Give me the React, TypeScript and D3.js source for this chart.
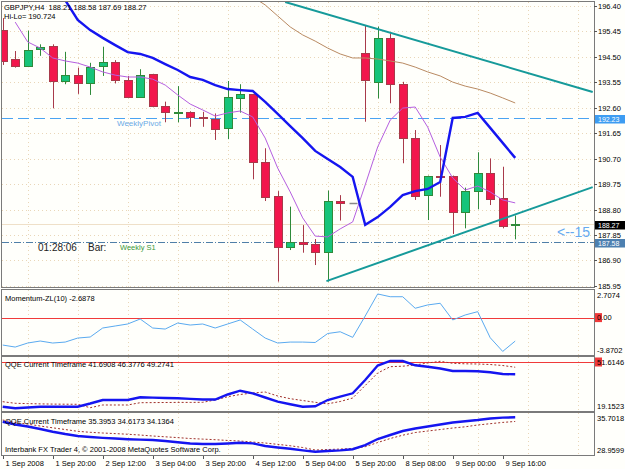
import React from 'react'
import * as d3 from 'd3'

// GBPJPY H4 bars, 1 Sep 2008 .. 9 Sep 2008 20:00
const opens = [195.50, 194.41, 194.17, 194.78, 194.91, 193.60, 193.82, 193.51, 194.17, 194.30, 193.64, 192.99, 193.85, 192.67, 192.39, 192.45, 192.27, 192.18, 191.83, 192.98, 193.10, 190.59, 189.31, 187.41, 187.60, 187.52, 187.23, 189.12, 189.06, 194.66, 193.55, 195.19, 193.49, 191.46, 189.34, 190.05, 190.05, 188.70, 189.49, 190.15, 189.22, 188.21]
const highs = [195.95, 194.72, 195.48, 194.97, 194.97, 194.69, 194.10, 194.28, 194.88, 194.38, 193.79, 194.04, 193.87, 192.83, 193.41, 192.47, 192.45, 192.39, 193.60, 193.48, 193.12, 191.09, 189.49, 188.91, 188.22, 187.70, 189.51, 189.34, 189.06, 195.69, 195.63, 195.38, 193.57, 191.77, 190.07, 191.21, 190.07, 189.62, 190.94, 190.71, 190.40, 188.58]
const lows = [194.20, 194.10, 194.12, 194.54, 192.58, 193.48, 193.12, 193.08, 193.79, 193.51, 192.99, 192.97, 192.62, 192.06, 192.06, 191.89, 191.89, 191.40, 191.43, 192.42, 189.93, 189.12, 186.11, 187.29, 187.19, 186.73, 186.11, 188.39, 189.06, 192.08, 192.95, 192.77, 190.53, 189.16, 188.41, 189.28, 187.89, 188.10, 188.81, 188.97, 188.10, 187.69]
const closes = [194.36, 194.17, 194.76, 194.86, 193.60, 193.82, 193.51, 194.13, 194.30, 193.64, 193.01, 193.82, 192.68, 192.43, 192.43, 192.25, 192.22, 191.81, 193.01, 193.10, 190.59, 189.28, 187.41, 187.58, 187.52, 187.23, 189.12, 189.03, 189.06, 193.64, 195.19, 193.48, 191.46, 189.31, 190.05, 190.03, 188.70, 189.49, 190.15, 189.18, 188.19, 188.27]

// moving averages on the price chart
const maBlue = [null, null, null, null, 197.0, 196.62, 195.88, 195.50, 195.21, 194.94, 194.68, 194.61, 194.46, 194.23, 194.01, 193.75, 193.64, 193.45, 193.30, 193.26, 193.23, 192.82, 192.37, 191.92, 191.47, 190.99, 190.69, 190.39, 190.02, 188.23, 188.52, 188.90, 189.34, 189.49, 189.57, 189.83, 192.22, 192.26, 192.41, 191.85, 191.29, 190.73]
const maPurple = [null, 195.80, 195.06, 194.83, 194.46, 194.35, 194.27, 194.12, 193.94, 193.82, 193.75, 193.75, 193.67, 193.45, 193.08, 192.74, 192.52, 192.29, 192.41, 192.48, 192.26, 191.47, 190.35, 189.46, 188.49, 187.81, 187.78, 188.08, 188.34, 189.72, 191.14, 192.14, 192.59, 192.63, 191.88, 190.76, 189.98, 189.53, 189.68, 189.46, 189.16, 189.05]
const maBrown = [null, null, null, null, null, null, null, null, null, null, null, null, null, null, null, null, null, null, null, null, 196.74, 196.44, 196.03, 195.62, 195.32, 195.09, 194.83, 194.61, 194.46, 194.46, 194.42, 194.35, 194.27, 194.12, 193.94, 193.79, 193.56, 193.41, 193.30, 193.15, 192.97, 192.78]

// trend lines (bar index, price)
const trendUpper = [{ bar: 22.6, price: 196.55 }, { bar: 47.2, price: 193.19 }]
const trendLower = [{ bar: 25.9, price: 186.13 }, { bar: 47.2, price: 189.64 }]

const weeklyPivot = 192.23
const weeklyS1 = 187.58

// indicator windows
const momentum = [-3.14, -3.37, -2.91, -2.68, -2.91, -2.80, -2.34, -2.22, -1.19, -0.96, -0.73, -0.16, -1.19, -1.31, -0.62, -0.85, -0.73, -1.19, -0.73, -0.27, -1.31, -2.34, -2.91, -2.80, -2.80, -2.85, -1.82, -1.62, -2.26, 0.18, 2.7074, 2.39, 2.39, 1.07, 1.45, 1.64, -0.27, 0.30, 0.68, -2.30, -3.8702, -2.6878]
const qqe1Line = [20.21, 19.15, 19.68, 20.21, 20.21, 20.21, 20.21, 22.33, 24.65, 24.65, 24.65, 26.44, 26.25, 25.98, 25.78, 25.38, 24.99, 24.99, 28.30, 30.82, 29.10, 26.31, 23.53, 21.87, 20.21, 20.54, 24.65, 26.84, 29.10, 37.92, 47.53, 50.52, 50.52, 47.66, 46.74, 45.54, 43.89, 43.89, 43.75, 43.02, 41.90, 41.6908]
const qqe1Trail = [23.53, 22.47, 22.27, 22.07, 21.94, 21.87, 21.80, 19.55, 21.34, 21.34, 21.34, 22.86, 22.93, 23.00, 23.06, 23.06, 23.13, 24.65, 26.84, 28.30, 29.30, 29.96, 27.31, 25.52, 24.32, 23.13, 22.13, 23.66, 25.98, 34.27, 42.56, 46.74, 47.07, 47.86, 49.19, 50.32, 48.99, 48.66, 48.53, 48.19, 47.53, 46.3776]
const qqe2Line = [34.57, 34.05, 33.67, 33.21, 32.70, 32.27, 31.90, 31.71, 31.56, 31.43, 31.30, 31.22, 31.15, 30.96, 30.74, 30.51, 30.40, 30.40, 30.51, 30.64, 30.53, 30.03, 29.76, 29.52, 29.22, 28.96, 29.11, 29.22, 29.43, 30.21, 31.34, 32.09, 32.83, 33.30, 33.67, 34.05, 34.42, 34.67, 34.89, 35.17, 35.34, 35.3953]
const qqe2Trail = [34.89, 34.42, 34.11, 33.77, 33.43, 33.11, 32.78, 32.59, 32.46, 32.35, 32.23, 32.08, 31.90, 31.75, 31.60, 31.43, 31.32, 31.21, 31.07, 30.96, 30.77, 30.59, 30.34, 30.08, 29.75, 29.28, 29.37, 29.46, 29.56, 29.90, 30.68, 31.43, 32.05, 32.55, 32.83, 33.11, 33.39, 33.62, 33.96, 34.20, 34.44, 34.6173]
const qqe1Extra = '49.2741'
const qqe2Extra = '34.1364'

const timeLabels = ['1 Sep 2008', '1 Sep 20:00', '2 Sep 12:00', '3 Sep 04:00', '3 Sep 20:00', '4 Sep 12:00', '5 Sep 04:00', '5 Sep 20:00', '8 Sep 08:00', '9 Sep 00:00', '9 Sep 16:00']
const timeTickBars = [0, 4, 8, 12, 16, 20, 24, 28, 32, 36, 40]
const gridBars = [2, 6, 10, 14, 18, 22, 26, 30, 34, 38, 42, 46]
const priceTicks = ['196.40', '195.45', '194.50', '193.55', '192.60', '191.65', '190.70', '189.75', '188.80', '187.85', '186.90', '185.95']
const momLabels = ['2.7074', '0.00', '-3.8702']
const qqe1Labels = ['51.6146', '19.1523']
const qqe2Labels = ['35.7018', '28.9599']

const FONT = "'Liberation Sans', Arial, sans-serif"
const AX = 594
const LEFT = 2

export default function App () {
  const xs = d3.scaleLinear().domain([0, 41]).range([2.7, 515.2])
  const yMain = d3.scaleLinear().domain([185.91, 196.55]).range([287, 2])
  const yMom = d3.scaleLinear().domain([-4.28, 3.16]).range([355, 290])
  const yQ1 = d3.scaleLinear().domain([17.36, 53.17]).range([411, 357])
  const yQ2 = d3.scaleLinear().domain([28.35, 36.2]).range([455, 413])

  const mkLine = (y: d3.ScaleLinear<number, number>) =>
    d3.line<number | null>()
      .defined(d => d != null)
      .x((d, i) => xs(i))
      .y(d => y(d as number))

  const last = opens.length - 1
  const clampY = (v: number, top: number, bot: number) => Math.max(top + 5, Math.min(bot - 5, v))

  const tl = (pts: { bar: number, price: number }[]) => {
    const [a, b] = pts
    return { x1: xs(a.bar), y1: yMain(a.price), x2: xs(b.bar), y2: yMain(b.price) }
  }
  const up = tl(trendUpper)
  const lo = tl(trendLower)

  const txt = { fontFamily: FONT, fontSize: 7.5, fill: '#000' }

  return (
    <svg width={625} height={469} style={{ position: 'absolute', left: 0, top: 0 }}>
      <defs>
        <clipPath id='cMain'><rect x={LEFT} y={2} width={AX - LEFT} height={285} /></clipPath>
        <clipPath id='cMom'><rect x={LEFT} y={290} width={AX - LEFT} height={65} /></clipPath>
        <clipPath id='cQ1'><rect x={LEFT} y={357} width={AX - LEFT} height={54} /></clipPath>
        <clipPath id='cQ2'><rect x={LEFT} y={413} width={AX - LEFT} height={42} /></clipPath>
      </defs>
      <rect width={625} height={469} fill='#fffffb' />

      {/* grid */}
      <g stroke='#e9d6b8' strokeDasharray='1,3'>
        {priceTicks.map(p => (
          <line key={p} x1={LEFT} x2={AX} y1={Math.round(yMain(+p)) + 0.5} y2={Math.round(yMain(+p)) + 0.5} />
        ))}
        {gridBars.map(b => (
          <g key={b}>
            <line x1={Math.round(xs(b)) + 0.5} x2={Math.round(xs(b)) + 0.5} y1={2} y2={287} />
            <line x1={Math.round(xs(b)) + 0.5} x2={Math.round(xs(b)) + 0.5} y1={290} y2={355} />
            <line x1={Math.round(xs(b)) + 0.5} x2={Math.round(xs(b)) + 0.5} y1={357} y2={411} />
            <line x1={Math.round(xs(b)) + 0.5} x2={Math.round(xs(b)) + 0.5} y1={413} y2={455} />
          </g>
        ))}
      </g>

      {/* main chart */}
      <g clipPath='url(#cMain)'>
        <line x1={LEFT} x2={AX} y1={Math.round(yMain(closes[last])) + 0.5} y2={Math.round(yMain(closes[last])) + 0.5} stroke='#efe0c8' />
        <line x1={LEFT} x2={AX} y1={Math.round(yMain(weeklyPivot)) + 0.5} y2={Math.round(yMain(weeklyPivot)) + 0.5} stroke='#4aa3f2' strokeDasharray='11,5' />
        <line x1={LEFT} x2={AX} y1={Math.round(yMain(weeklyS1)) + 0.5} y2={Math.round(yMain(weeklyS1)) + 0.5} stroke='#4f7fa8' strokeDasharray='7,2,1,2' />
        <text x={117} y={yMain(weeklyPivot) + 8} fontFamily={FONT} fontSize={8} fill='#6aaae6'>WeeklyPivot</text>
        <text x={120} y={yMain(weeklyS1) + 8} fontFamily={FONT} fontSize={7.5} fill='#3a9a3a'>Weekly S1</text>
        <text x={38} y={yMain(weeklyS1) + 9} fontFamily={FONT} fontSize={10} fill='#222'>01:28:06</text>
        <text x={88} y={yMain(weeklyS1) + 9} fontFamily={FONT} fontSize={10} fill='#222'>Bar:</text>

        {opens.map((o, i) => {
          const c = closes[i]
          const cx = Math.round(xs(i)) + 0.5
          const bull = c > o
          const flat = c === o
          const stroke = flat ? '#888' : bull ? '#2f8a3a' : '#a83a4a'
          const fill = bull ? '#16c47a' : '#f2164c'
          const yt = Math.round(yMain(Math.max(o, c)))
          const yb = Math.round(yMain(Math.min(o, c)))
          return (
            <g key={i}>
              <line x1={cx} x2={cx} y1={yMain(highs[i])} y2={yMain(lows[i])} stroke={stroke} />
              {flat
                ? <line x1={cx - 4} x2={cx + 4} y1={yt + 0.5} y2={yt + 0.5} stroke={stroke} strokeWidth={1.5} />
                : <rect x={cx - 4} y={yt + 0.5} width={8} height={Math.max(1, yb - yt)} fill={fill} stroke={stroke} />}
            </g>
          )
        })}

        <path d={mkLine(yMain)(maBrown) || ''} fill='none' stroke='#b98a62' strokeWidth={1} />
        <path d={mkLine(yMain)(maPurple) || ''} fill='none' stroke='#b55fe0' strokeWidth={1} />
        <path d={mkLine(yMain)(maBlue) || ''} fill='none' stroke='#1515f0' strokeWidth={2.4} />
        <line {...up} stroke='#169a9a' strokeWidth={2} />
        <line {...lo} stroke='#169a9a' strokeWidth={2} />
        <text x={557} y={yMain(188.27) + 13} fontFamily={FONT} fontSize={14} fill='#66aaf0'>{'<--15'}</text>
      </g>
      <text x={4} y={10} {...txt} style={{ whiteSpace: 'pre' }}>
        {`GBPJPY,H4  ${opens[last].toFixed(2)} ${highs[last].toFixed(2)} ${lows[last].toFixed(2)} ${closes[last].toFixed(2)}`}
      </text>
      <text x={4} y={19} {...txt}>Hi-Lo= 190.724</text>

      {/* momentum window */}
      <g clipPath='url(#cMom)'>
        <line x1={LEFT} x2={AX} y1={Math.round(yMom(0)) + 0.5} y2={Math.round(yMom(0)) + 0.5} stroke='#f03a3a' />
        <path d={mkLine(yMom)(momentum) || ''} fill='none' stroke='#5aaaf0' strokeWidth={1} />
      </g>
      <text x={5} y={301} {...txt}>{`Momentum-ZL(10) ${momentum[last]}`}</text>

      {/* QQE 1 */}
      <g clipPath='url(#cQ1)'>
        <line x1={LEFT} x2={AX} y1={Math.round(yQ1(50)) + 0.5} y2={Math.round(yQ1(50)) + 0.5} stroke='#f03a3a' />
        <path d={mkLine(yQ1)(qqe1Trail) || ''} fill='none' stroke='#a0302a' strokeWidth={1} strokeDasharray='2,2' />
        <path d={mkLine(yQ1)(qqe1Line) || ''} fill='none' stroke='#1515f0' strokeWidth={2.4} />
      </g>
      <text x={5} y={367} {...txt}>{`QQE Current Timeframe ${qqe1Line[last]} ${qqe1Trail[last]} ${qqe1Extra}`}</text>

      {/* QQE 2 */}
      <g clipPath='url(#cQ2)'>
        <path d={mkLine(yQ2)(qqe2Trail) || ''} fill='none' stroke='#a0302a' strokeWidth={1} strokeDasharray='2,2' />
        <path d={mkLine(yQ2)(qqe2Line) || ''} fill='none' stroke='#1515f0' strokeWidth={2.4} />
      </g>
      <text x={5} y={424} {...txt}>{`QQE Current Timeframe ${qqe2Line[last]} ${qqe2Trail[last]} ${qqe2Extra}`}</text>
      <text x={5} y={452} {...txt}>Interbank FX Trader 4, © 2001-2008 MetaQuotes Software Corp.</text>

      {/* frames */}
      <g fill='none' stroke='#7a7a7a'>
        <rect x={LEFT - 0.5} y={1.5} width={AX - LEFT + 1} height={286} />
        <rect x={LEFT - 0.5} y={289.5} width={AX - LEFT + 1} height={66} />
        <rect x={LEFT - 0.5} y={356.5} width={AX - LEFT + 1} height={55} />
        <rect x={LEFT - 0.5} y={412.5} width={AX - LEFT + 1} height={43} />
      </g>

      {/* price axis */}
      {priceTicks.map(p => {
        const y = Math.round(yMain(+p)) + 0.5
        return (
          <g key={p}>
            <line x1={AX} x2={AX + 3} y1={y} y2={y} stroke='#555' />
            <text x={598} y={y + 2.7} {...txt}>{p}</text>
          </g>
        )
      })}
      {[
        { v: weeklyPivot, bg: '#3d9cf2', fg: '#fff' },
        { v: closes[last], bg: '#000', fg: '#fff' },
        { v: weeklyS1, bg: '#4d80b0', fg: '#fff' }
      ].map(b => {
        const y = Math.round(yMain(b.v)) + 0.5
        return (
          <g key={b.v}>
            <rect x={AX + 1} y={y - 3.5} width={30} height={8.5} fill={b.bg} />
            <text x={598} y={y + 3} {...txt} fontSize={7} fill={b.fg}>{b.v.toFixed(2)}</text>
          </g>
        )
      })}

      {/* indicator axes */}
      {momLabels.map(l => {
        const y = clampY(yMom(+l), 290, 355)
        return (
          <g key={l}>
            {l === '0.00' && <rect x={AX + 1} y={y - 4.5} width={7} height={9} fill='#f03a3a' />}
            <text x={597} y={y + 2.7} {...txt}>{l}</text>
          </g>
        )
      })}
      {qqe1Labels.map((l, k) => {
        const y = clampY(yQ1(+l), 357, 411)
        return (
          <g key={l}>
            {k === 0 && <rect x={AX + 1} y={y - 4.5} width={7} height={9} fill='#f03a3a' />}
            <text x={597} y={y + 2.7} {...txt}>{l}</text>
          </g>
        )
      })}
      {qqe2Labels.map(l => {
        const y = clampY(yQ2(+l), 413, 455)
        return <text key={l} x={597} y={y + 2.7} {...txt}>{l}</text>
      })}

      {/* time axis */}
      {timeTickBars.map((b, k) => {
        const x = Math.round(xs(b)) + 0.5
        return (
          <g key={b}>
            <line x1={x} x2={x} y1={456} y2={459} stroke='#555' />
            <text x={x + 2} y={466} {...txt}>{timeLabels[k]}</text>
          </g>
        )
      })}
    </svg>
  )
}
